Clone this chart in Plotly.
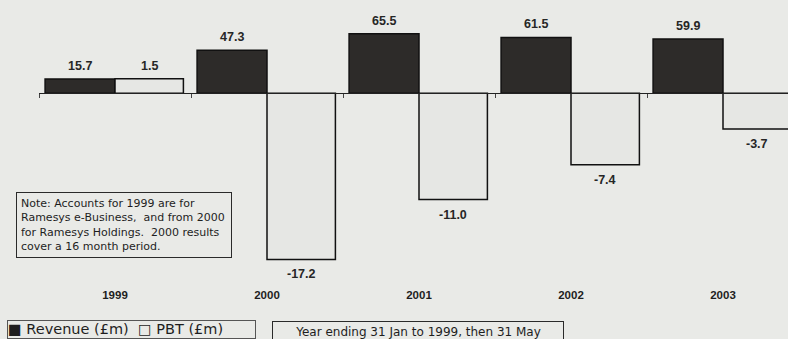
import plotly.graph_objects as go

# Financial results by year
years = ["1999", "2000", "2001", "2002", "2003"]
revenue = [15.7, 47.3, 65.5, 61.5, 59.9]   # Revenue (£m)
pbt = [1.5, -17.2, -11.0, -7.4, -3.7]      # PBT (£m)

W, H = 788, 339
LEFT = 39                 # left edge of the plotting area (px)
ZERO_Y = 93.3             # pixel row of the shared zero baseline
REV_PX = 0.908            # revenue axis: pixels per £m
PBT_PX = 9.66             # PBT axis: pixels per £m
CAT_PX = 152              # pixels per category

BG = "#e9eae7"
INK = "#1e1e1e"

rev_range = [-(H - ZERO_Y) / REV_PX, ZERO_Y / REV_PX]
pbt_range = [-(H - ZERO_Y) / PBT_PX, ZERO_Y / PBT_PX]
x_range = [-0.5, -0.5 + (W - LEFT) / CAT_PX]


def px_x(px):
    return (px - LEFT) / (W - LEFT)


def px_y(py):
    return (H - py) / H


fig = go.Figure()

fig.add_trace(go.Bar(
    x=years, y=revenue, name="Revenue (£m)", yaxis="y",
    offset=-0.46, width=0.46,
    marker=dict(color="#2d2b29", line=dict(color="#111111", width=1.5)),
    showlegend=False,
))
fig.add_trace(go.Bar(
    x=years, y=pbt, name="PBT (£m)", yaxis="y2",
    offset=0.0, width=0.45,
    marker=dict(color="#e6e7e4", line=dict(color="#111111", width=1.5)),
    showlegend=False,
))

value_font = dict(family="Liberation Sans, Arial, sans-serif", size=12.5,
                  color="#262626", weight="bold")

# Value labels, from the same series as the bars (x given as category index)
for i, v in enumerate(revenue):
    fig.add_annotation(x=i, y=v, xref="x", yref="y", xshift=-35,
                       yanchor="bottom", yshift=4, showarrow=False,
                       text=f"{v:.1f}", font=value_font)
for i, v in enumerate(pbt):
    fig.add_annotation(x=i, y=v, xref="x", yref="y2", xshift=34,
                       yanchor="bottom" if v >= 0 else "top",
                       yshift=4 if v >= 0 else -6, showarrow=False,
                       text=f"{v:.1f}", font=value_font)

# Explanatory note
note = ("Note: Accounts for 1999 are for<br>"
        "Ramesys e-Business,\u00a0 and from 2000<br>"
        "for Ramesys Holdings.\u00a0 2000 results<br>"
        "cover a 16 month period.")
fig.add_annotation(x=px_x(16), y=px_y(192), xref="paper", yref="paper",
                   xanchor="left", yanchor="top", showarrow=False,
                   text=note, align="left", valign="middle",
                   width=206, height=56, borderpad=4, borderwidth=1,
                   bordercolor="#2a2a2a", bgcolor=BG,
                   font=dict(family="DejaVu Sans", size=11, color=INK))

# Key
fig.add_annotation(x=px_x(7), y=px_y(320), xref="paper", yref="paper",
                   xanchor="left", yanchor="top", showarrow=False,
                   text="\u25a0 Revenue (£m)\u00a0 \u25a1 PBT (£m)",
                   align="left", valign="top", width=247, height=17,
                   borderpad=0, borderwidth=1, bordercolor="#555555",
                   bgcolor=BG,
                   font=dict(family="DejaVu Sans", size=14.5, color=INK))

# Financial year note
fig.add_annotation(x=px_x(272), y=px_y(321), xref="paper", yref="paper",
                   xanchor="left", yanchor="top", showarrow=False,
                   text="Year ending 31 Jan to 1999, then 31 May",
                   align="center", valign="top", width=284, height=20,
                   borderpad=3, borderwidth=1, bordercolor="#2a2a2a",
                   bgcolor=BG,
                   font=dict(family="DejaVu Sans", size=12, color=INK))

fig.update_layout(
    width=W, height=H,
    margin=dict(l=LEFT, r=0, t=0, b=0),
    paper_bgcolor=BG, plot_bgcolor=BG,
    barmode="overlay",
    xaxis=dict(
        type="category", categoryorder="array", categoryarray=years,
        range=x_range, anchor="free", position=1 - ZERO_Y / H,
        showline=True, linecolor="#222222", linewidth=1,
        ticks="outside", tickson="boundaries", ticklen=4, tickcolor="#444444",
        showgrid=False, zeroline=False,
        ticklabelstandoff=191,
        tickfont=dict(family="Liberation Sans, Arial, sans-serif", size=11.5,
                      color=INK, weight="bold"),
    ),
    yaxis=dict(range=rev_range, visible=False, showgrid=False, zeroline=False),
    yaxis2=dict(range=pbt_range, visible=False, showgrid=False, zeroline=False,
                overlaying="y", side="right"),
)

fig.write_html("out.html")
